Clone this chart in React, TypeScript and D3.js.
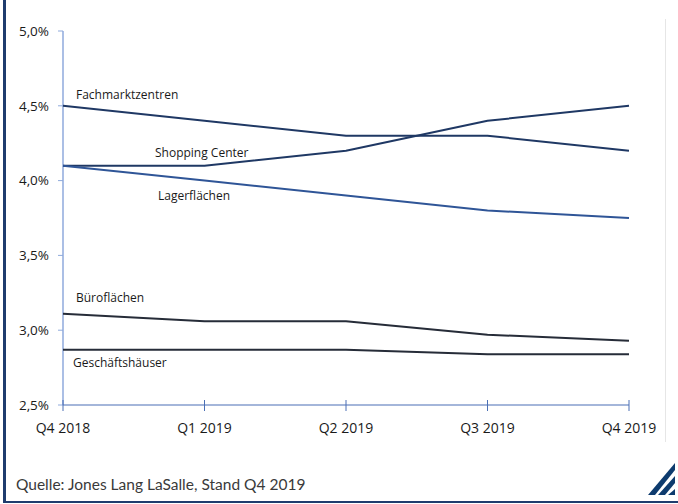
import React from "react";
import * as d3 from "d3";

const quarters = ["Q4 2018", "Q1 2019", "Q2 2019", "Q3 2019", "Q4 2019"];
const yTicks = [2.5, 3.0, 3.5, 4.0, 4.5, 5.0];

const fachmarktzentren = [4.5, 4.4, 4.3, 4.3, 4.2];
const shoppingCenter = [4.1, 4.1, 4.2, 4.4, 4.5];
const lagerflaechen = [4.1, 4.0, 3.9, 3.8, 3.75];
const bueroflaechen = [3.11, 3.06, 3.06, 2.97, 2.93];
const geschaeftshaeuser = [2.87, 2.87, 2.87, 2.84, 2.84];

const series = [
  { name: "Fachmarktzentren", values: fachmarktzentren, color: "#1f3864", lx: 76, ly: 99 },
  { name: "Shopping Center", values: shoppingCenter, color: "#1f3864", lx: 155, ly: 157 },
  { name: "Lagerflächen", values: lagerflaechen, color: "#2f5597", lx: 158, ly: 200 },
  { name: "Büroflächen", values: bueroflaechen, color: "#262c38", lx: 76, ly: 302 },
  { name: "Geschäftshäuser", values: geschaeftshaeuser, color: "#262c38", lx: 73, ly: 367 },
];

export default function App() {
  const W = 678, H = 504;
  const x = d3.scalePoint<string>().domain(quarters).range([63, 629]);
  const y = d3.scaleLinear().domain([2.5, 5.0]).range([405, 31]);
  const line = d3
    .line<number>()
    .x((_, i) => x(quarters[i]) as number)
    .y((d) => y(d))
    .curve(d3.curveLinear);
  const fmt = (v: number) => v.toFixed(1).replace(".", ",") + "%";
  const font = "'Open Sans', sans-serif";

  return (
    <svg width={W} height={H} style={{ position: "absolute", left: 0, top: 0, background: "#fff" }}>
      {/* frame */}
      <rect x={3} y={0} width={3} height={503} fill="#1f3c6e" />
      <rect x={3} y={501} width={675} height={2} fill="#1f3c6e" />
      <line x1={665.5} x2={665.5} y1={19} y2={442} stroke="#e6e6e6" strokeWidth={1} />

      {/* y axis */}
      <line x1={63} x2={63} y1={31} y2={405} stroke="#8faadc" strokeWidth={1.5} />
      {yTicks.map((t) => (
        <g key={t}>
          <line x1={58} x2={63} y1={y(t)} y2={y(t)} stroke="#8faadc" strokeWidth={1} />
          <text x={49} y={y(t)} dy="0.35em" textAnchor="end" fontFamily={font} fontSize={13.5} fill="#1a1a1a">
            {fmt(t)}
          </text>
        </g>
      ))}

      {/* x axis */}
      <line x1={63} x2={629} y1={405} y2={405} stroke="#4a6fb5" strokeWidth={1.2} />
      {quarters.map((q) => (
        <g key={q}>
          <line x1={x(q)} x2={x(q)} y1={400} y2={411} stroke="#4a6fb5" strokeWidth={1} />
          <text x={x(q)} y={428} dy="0.35em" textAnchor="middle" fontFamily={font} fontSize={14} fill="#1a1a1a">
            {q}
          </text>
        </g>
      ))}

      {/* lines */}
      {series.map((s) => (
        <path key={s.name} d={line(s.values) || ""} fill="none" stroke={s.color} strokeWidth={2} strokeLinejoin="round" />
      ))}
      {series.map((s) => (
        <text key={s.name + "l"} x={s.lx} y={s.ly} fontFamily={font} fontSize={12} fill="#1a1a1a">
          {s.name}
        </text>
      ))}

      {/* source */}
      <text x={16} y={490} fontFamily="Lato, sans-serif" fontWeight={400} fontSize={15.5} fill="#3a3a3a">
        Quelle: Jones Lang LaSalle, Stand Q4 2019
      </text>

      {/* logo */}
      <g fill="#0d3b6e">
        <polygon points="648,495 655,495 675,470 675,463" />
        <polygon points="658,495 665,495 675,483 675,476" />
        <polygon points="668,495 675,495 675,489" />
      </g>
    </svg>
  );
}
